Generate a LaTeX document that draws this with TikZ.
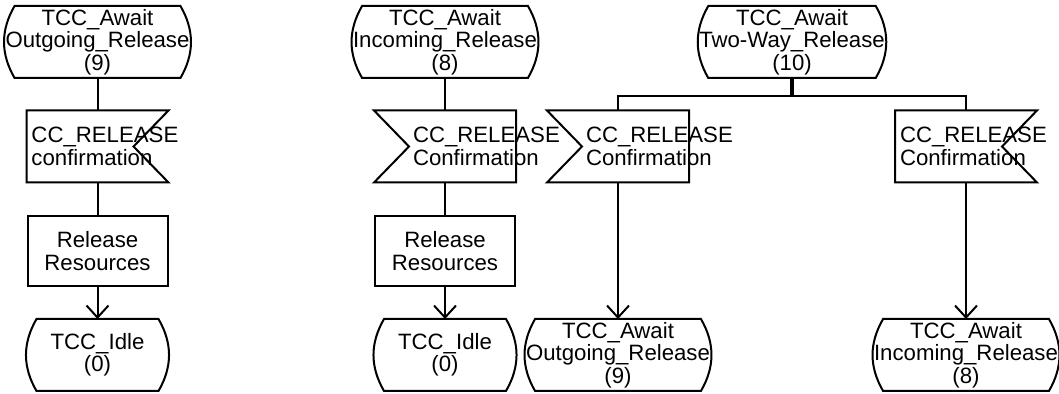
\documentclass[tikz,border=0pt]{standalone}
\usepackage{fontspec}
\setmainfont{Liberation Sans}
\usetikzlibrary{arrows.meta}

% SDL symbols, drawn round named nodes
\newcommand\stateshape[1]{\draw ([xshift=5pt]#1.north west) -- ([xshift=-5pt]#1.north east)
  to[out=-60,in=60] ([xshift=-5pt]#1.south east) -- ([xshift=5pt]#1.south west)
  to[out=120,in=-120] cycle;}
\newcommand\inleft[1]{\draw (#1.north west) -- (#1.north east) -- (#1.south east)
  -- (#1.south west) -- ([xshift=17.5pt]#1.west) -- cycle;}
\newcommand\inright[1]{\draw (#1.north west) -- (#1.north east) -- ([xshift=-17.5pt]#1.east)
  -- (#1.south east) -- (#1.south west) -- cycle;}
\newcommand\gap{\hspace*{17pt}}
\newcommand\sdlfont{\fontsize{11.1}{11.25}\selectfont
  \hyphenpenalty=10000\relax\exhyphenpenalty=10000\relax}

\tikzset{
  sdl/.style={minimum width=70pt, minimum height=35pt, inner sep=0pt, font=\sdlfont},
  state/.style={sdl, align=center},
  signal/.style={sdl, text width=66pt, inner xsep=2pt, align=left},
  task/.style={sdl, draw, align=center},
  flow/.style={-{Straight Barb[length=6pt,width=11pt]}}
}

\begin{document}
\begin{tikzpicture}[x=0.5pt,y=-0.5pt,line width=1pt]
    \useasboundingbox (0,0) rectangle (1059,394);

    % linke Spalte
    \node[state] (s1) at (97.5,42) {TCC\_Await\\Outgoing\_Release\\(9)};
    \node[signal] (i1) at (97.5,146.5) {CC\_RELEASE\\confirmation};
    \node[task] (t1) at (97.5,251) {Release\\Resources};
    \node[state] (e1) at (97.5,355) {TCC\_Idle\\(0)};

    % mittlere Spalte
    \node[state] (s2) at (445,42) {TCC\_Await\\Incoming\_Release\\(8)};
    \node[signal] (i2) at (445,146.5) {\gap CC\_RELEASE\\\gap Confirmation};
    \node[task] (t2) at (445,251) {Release\\Resources};
    \node[state] (e2) at (445,355) {TCC\_Idle\\(0)};

    % rechte Spalte
    \node[state] (s3) at (792,42) {TCC\_Await\\Two-Way\_Release\\(10)};
    \coordinate (br) at (792,96);
    \node[signal] (i3) at (618,146.5) {\gap CC\_RELEASE\\\gap Confirmation};
    \node[signal] (i4) at (966,146.5) {CC\_RELEASE\\Confirmation};
    \node[state] (e3) at (618,355) {TCC\_Await\\Outgoing\_Release\\(9)};
    \node[state] (e4) at (966,355) {TCC\_Await\\Incoming\_Release\\(8)};

    \foreach \n in {s1,e1,s2,e2,s3,e3,e4} {\stateshape{\n}}
    \inright{i1} \inleft{i2} \inleft{i3} \inright{i4}

    \draw (s1) -- (i1);
    \draw (i1) -- (t1);
    \draw[flow] (t1) -- (e1);

    \draw (s2) -- (i2);
    \draw (i2) -- (t2);
    \draw[flow] (t2) -- (e2);

    \draw[line width=1.6pt] (s3) -- (br);
    \draw (i3.north) |- (br) -| (i4.north);
    \draw[flow] (i3) -- (e3);
    \draw[flow] (i4) -- (e4);
\end{tikzpicture}
\end{document}
